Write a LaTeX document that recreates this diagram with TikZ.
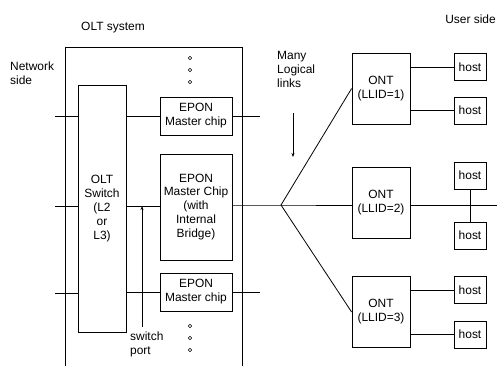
\documentclass[tikz,border=0pt]{standalone}
\usepackage{fontspec}
\setmainfont{Liberation Sans}
\usetikzlibrary{arrows.meta}

\begin{document}
\begin{tikzpicture}[x=1bp,y=-1bp,
  every node/.style={font=\fontsize{12}{14}\selectfont, inner sep=0pt},
  box/.style={draw, line width=0.8bp, align=center},
  chip/.style={box, minimum width=72bp},
  ont/.style={box, minimum width=58bp, minimum height=71bp},
  hostbox/.style={box, minimum width=32bp, minimum height=27bp},
  wire/.style={line width=0.8bp},
  pointer/.style={line width=0.6bp, -{Stealth[length=4bp,width=3bp]}},
  dot/.style={line width=0.6bp}
]
\useasboundingbox (0,0) rectangle (497,365);

% OLT chassis, open towards the bottom
\draw[wire] (65,366) -- (65,47) -- (242,47) -- (242,366);

% labels
\node (oltlabel) at (113,28) {OLT system};
\node[align=left, anchor=west] (netlabel) at (10,73) {Network\\side};
\node (userlabel) at (470.5,19) {User side};
\node[align=left, anchor=west] (linkslabel) at (277,69) {Many\\Logical\\links};
\node[align=left, anchor=west] (portlabel) at (130,344.5) {switch\\port};

% switch and EPON chips
\node[box, minimum width=48bp, minimum height=247bp] (switch) at (102,208.5)
  {OLT\\Switch\\(L2\\or\\L3)};
\node[chip, minimum height=38bp] (eponA) at (196,116) {EPON\\Master chip};
\node[chip, minimum height=106bp] (eponB) at (196,207)
  {EPON\\Master Chip\\(with\\Internal\\Bridge)};
\node[chip, minimum height=38bp] (eponC) at (196,292) {EPON\\Master chip};

% ONTs
\node[ont] (ont1) at (381,88.5) {ONT\\(LLID=1)};
\node[ont] (ont2) at (381,202.5) {ONT\\(LLID=2)};
\node[ont] (ont3) at (381,312) {ONT\\(LLID=3)};

% hosts
\node[hostbox] (host1) at (470,67) {host};
\node[hostbox] (host2) at (470,110.5) {host};
\node[hostbox] (host3) at (470,175.5) {host};
\node[hostbox] (host4) at (470,235.5) {host};
\node[hostbox] (host5) at (470,290) {host};
\node[hostbox] (host6) at (470,334.5) {host};

% free line ends
\coordinate (netA) at (55,116);
\coordinate (netB) at (55,206);
\coordinate (netC) at (55,293);
\coordinate (outA) at (260,116);
\coordinate (outC) at (260,292);
\coordinate (split) at (281,205);
\coordinate (userB) at (497,205);
\coordinate (portfoot) at (142,327);
\coordinate (linkstop) at (293,113);
\coordinate (linksend) at (293,157);

% network side links
\draw[wire] (netA) -- (netA -| switch.west);
\draw[wire] (netB) -- (netB -| switch.west);
\draw[wire] (netC) -- (netC -| switch.west);

% switch ports to chips
\draw[wire] (eponA.west -| switch.east) -- (eponA.west);
\draw[wire] (netB -| switch.east) -- (netB -| eponB.west);
\draw[wire] (eponC.west -| switch.east) -- (eponC.west);
\draw[pointer] (portfoot) -- (portfoot |- netB);

% PON side
\draw[wire] (eponA.east) -- (outA);
\draw[wire] (eponC.east) -- (outC);
\draw[wire] (split -| eponB.east) -- (split) -- (split -| ont2.west);
\draw[wire] (split) -- (ont1.west);
\draw[wire] (split) -- (ont3.west);
\draw[pointer] (linkstop) -- (linksend);

% ONT to hosts
\draw[wire] (host1.west -| ont1.east) -- (host1.west);
\draw[wire] (host2.west -| ont1.east) -- (host2.west);
\draw[wire] (split -| ont2.east) -- (userB);
\draw[wire] (host3.south) -- (host4.north);
\draw[wire] (host5.west -| ont3.east) -- (host5.west);
\draw[wire] (host6.west -| ont3.east) -- (host6.west);

% continuation marks
\foreach \yy in {58,70,82,326,338,350}
  \draw[dot] (190,\yy) circle (1.8bp);
\end{tikzpicture}
\end{document}
